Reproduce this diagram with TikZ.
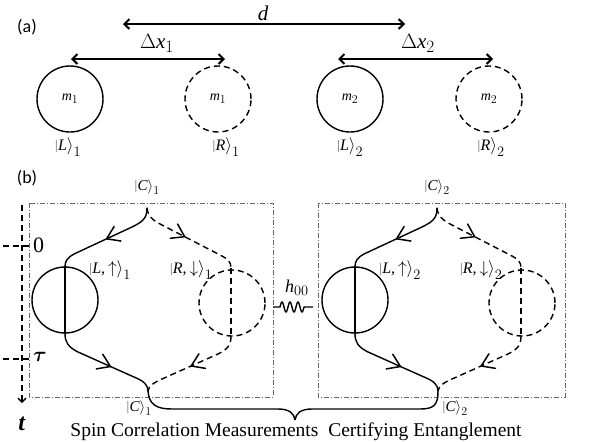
\documentclass[tikz,border=0pt]{standalone}
\usepackage{fontspec}
\setmainfont{Liberation Serif}
\newfontfamily\labfont{Carlito}
\usepackage{bm}
\usepackage[italic]{mathastext}
\usetikzlibrary{arrows.meta,decorations.markings}
\tikzset{
  solidp/.style={line width=1.4pt, line cap=round},
  dashp/.style={line width=1.4pt, dash pattern=on 6pt off 4pt},
  boxst/.style={draw=black!60, line width=0.7pt, dash pattern=on 5pt off 2pt on 1pt off 2pt},
  midarrow/.style={postaction={decorate}, decoration={markings, mark=at position #1 with {\draw[line width=1.5pt, solid, line cap=round, line join=miter] (-11pt,-8pt) -- (1pt,0pt) -- (-11pt,8pt);}}},
  dimarrow/.style={line width=2pt, {Straight Barb[length=5pt,width=10pt]}-{Straight Barb[length=5pt,width=10pt]}},
  ball/.style={circle, draw, line width=1.4pt, minimum size=66pt, inner sep=0pt, font=\fontsize{14}{16}\selectfont},
  dball/.style={ball, dash pattern=on 6pt off 4pt},
  lab/.style={font=\fontsize{16}{18}\selectfont, inner sep=0pt},
  slab/.style={font=\fontsize{15}{17}\selectfont, inner sep=0pt},
  panel/.style={font=\labfont\fontsize{18}{20}\selectfont, inner sep=0pt}
}
\begin{document}
\begin{tikzpicture}[x=1pt,y=-1pt]
\useasboundingbox (0,0) rectangle (590,442);
% ---------------- (a) ----------------
\node[panel] (pa) at (27,27) {(a)};
\coordinate (dL) at (123,24);
\coordinate (dR) at (405,24);
\draw[dimarrow] (dL) -- (dR);
\node[font=\fontsize{21}{23}\selectfont, inner sep=0pt] (dlab) at (263,13) {$d$};
\coordinate (x1L) at (71,59);
\coordinate (x1R) at (225,59);
\draw[dimarrow] (x1L) -- (x1R);
\node[font=\fontsize{21}{23}\selectfont, inner sep=0pt] (x1lab) at (157,43) {$\Delta x_1$};
\coordinate (x2L) at (338,59);
\coordinate (x2R) at (493,59);
\draw[dimarrow] (x2L) -- (x2R);
\node[font=\fontsize{21}{23}\selectfont, inner sep=0pt] (x2lab) at (418,43) {$\Delta x_2$};
\node[ball] (aL1) at (70,99) {$m_1$};
\node[dball] (aR1) at (218,99) {$m_1$};
\node[ball] (aL2) at (350,99) {$m_2$};
\node[dball] (aR2) at (489,99) {$m_2$};
\node[lab] (tL1) at (68,147) {$\big|L\big\rangle_1$};
\node[lab] (tR1) at (226,147) {$\big|R\big\rangle_1$};
\node[lab] (tL2) at (350,147) {$\big|L\big\rangle_2$};
\node[lab] (tR2) at (491,147) {$\big|R\big\rangle_2$};
% ---------------- (b) ----------------
\node[panel] (pb) at (27,178) {(b)};
% time axis
\coordinate (ax0) at (22,205);
\coordinate (ax1) at (22,403);
\draw[line width=1.3pt, dash pattern=on 6pt off 4pt, -{Straight Barb[length=4pt,width=8pt]}] (ax0) -- (ax1);
\coordinate (z0) at (3,246);
\coordinate (z1) at (32,246);
\draw[line width=1.3pt, dash pattern=on 6pt off 4pt] (z0) -- (z1);
\coordinate (t0) at (3,359);
\coordinate (t1) at (32,359);
\draw[line width=1.3pt, dash pattern=on 6pt off 4pt] (t0) -- (t1);
\node[font=\fontsize{22}{24}\selectfont, inner sep=0pt, anchor=west] (zlab) at (33,245) {0};
\node[font=\fontsize{22}{24}\selectfont, inner sep=0pt, anchor=west] (taulab) at (33,357) {$\bm{\tau}$};
\node[font=\fontsize{24}{26}\selectfont, inner sep=0pt] (tlab) at (22,424) {\textbf{\textit{t}}};
% boxes
\draw[boxst] (29,203) rectangle (273,397);
\draw[boxst] (318,203) rectangle (565,397);
% branches
\foreach \dx/\i in {0/1, 290/2}{
\begin{scope}[xshift=\dx pt]
  \coordinate (T\i) at (147,208);
  \coordinate (B\i) at (148,391);
  \node[ball] (cL\i) at (65,300) {};
  \node[dball] (cR\i) at (232,303) {};
  \coordinate (rtop\i) at (231,268);
  \coordinate (rbot\i) at (231,336);
  \draw[solidp, midarrow=0.5] (T\i) .. controls (147,219) and (142,222) .. (132,227) -- (74,254) .. controls (68,257) and (65,261) .. (cL\i.north);
  \draw[solidp] (cL\i.north) -- (cL\i.south);
  \draw[solidp, midarrow=0.55] (cL\i.south) .. controls (65,342) and (68,347) .. (78,352) -- (134,377) .. controls (144,381) and (148,385) .. (B\i);
  \draw[dashp, midarrow=0.45] (T\i) .. controls (148,216) and (152,220) .. (162,225) -- (222,256) .. controls (228,259) and (231,262) .. (rtop\i);
  \draw[dashp] (rtop\i) -- (rbot\i);
  \draw[dashp, midarrow=0.5] (rbot\i) .. controls (231,345) and (228,349) .. (218,354) -- (162,379) .. controls (153,383) and (149,386) .. (B\i);
  \node[slab] (Ct\i) at (147,187) {$\big|C\big\rangle_{\i}$};
  \node[lab] (Lu\i) at (110,270) {$\big|L,{\uparrow}\big\rangle_{\i}$};
  \node[lab] (Rd\i) at (191,270) {$\big|R,{\downarrow}\big\rangle_{\i}$};
\end{scope}}
\node[slab] (Cb1) at (139,408) {$\big|C\big\rangle_1$};
\node[slab] (Cb2) at (455,408) {$\big|C\big\rangle_2$};
% coupling
\node[font=\fontsize{18}{20}\selectfont, inner sep=0pt] (hlab) at (297,288) {$h_{00}$};
\coordinate (w0) at (273,307);
\coordinate (w1) at (313,307);
\draw[line width=1.4pt, line join=round] (w0) -- (280,307) -- plot[domain=0:3, samples=61] ({280+\x*8}, {307-5*sin(\x*360)}) -- (w1);
% brace
\coordinate (brtip) at (295,420);
\draw[line width=1.4pt] (B1) .. controls (149,405) and (157,409) .. (172,409) -- (278,409) .. controls (289,409) and (294,413) .. (brtip);
\draw[line width=1.4pt] (brtip) .. controls (296,413) and (301,409) .. (312,409) -- (420,409) .. controls (434,409) and (438,405) .. (B2);
\node[font=\fontsize{19.5}{22}\selectfont, inner sep=0pt] (cap) at (296,432) {Spin Correlation Measurements\ \ Certifying Entanglement};
\end{tikzpicture}
\end{document}
